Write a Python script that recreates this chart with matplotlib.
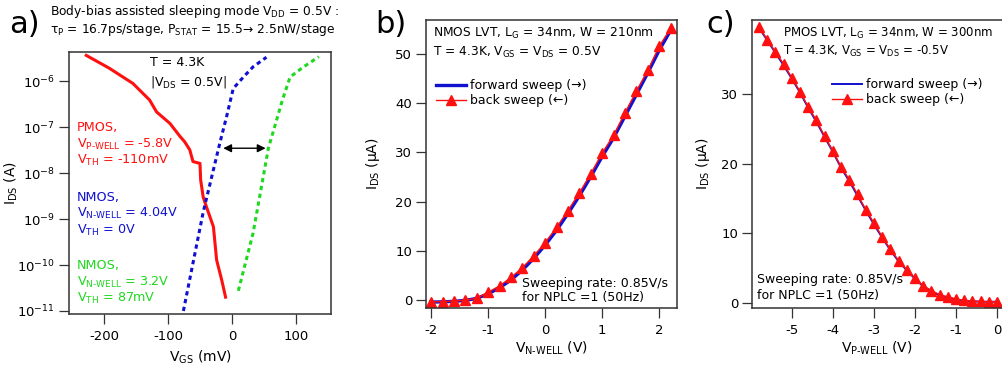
import matplotlib
matplotlib.use("Agg")
import matplotlib.pyplot as plt
import numpy as np

plt.rcParams['font.family'] = ['DejaVu Sans']
plt.rcParams['mathtext.default'] = 'regular'
plt.rcParams['axes.unicode_minus'] = False

W, H = 1002, 369

# panel a: subthreshold curves (V_GS in mV, I_DS in A)
pmos_vgs = [-228, -192, -155, -129, -118, -97, -81, -74, -66, -61, -50, -49, -45, -40, -29, -24, -16, -10]
pmos_ids = [3.63e-6, 1.91e-6, 8.9e-7, 3.9e-7, 2.14e-7, 1.20e-7, 6.2e-8, 4.8e-8, 3.2e-8, 1.78e-8,
            1.62e-8, 7.1e-9, 3.0e-9, 1.86e-9, 6.8e-10, 1.29e-10, 4.7e-11, 2.0e-11]
nmos404_vgs = [-76, -45, -19, -8, 2, 18, 33, 54]
nmos404_ids = [1.0e-11, 1.41e-9, 4.47e-8, 1.78e-7, 6.9e-7, 1.23e-6, 2.04e-6, 3.31e-6]
nmos32_vgs = [10, 33, 57, 79, 91, 112, 136]
nmos32_ids = [2.75e-11, 4.9e-10, 3.47e-8, 3.9e-7, 1.23e-6, 2.04e-6, 3.39e-6]
shift_from, shift_to, shift_level = -18, 57, 3.47e-8

# panel b: NMOS I_DS (uA) vs V_N-WELL (V)
nwell_v = [-2.0, -1.8, -1.6, -1.4, -1.2, -1.0, -0.8, -0.6, -0.4, -0.2, 0.0,
           0.2, 0.4, 0.6, 0.8, 1.0, 1.2, 1.4, 1.6, 1.8, 2.0, 2.2]
nwell_fwd = [-0.4, -0.35, -0.25, -0.05, 0.35, 1.3, 2.5, 4.1, 6.1, 8.5, 11.2,
             14.2, 17.6, 21.2, 25.1, 29.2, 33.0, 37.4, 41.8, 46.2, 50.8, 54.8]
nwell_back = [-0.35, -0.3, -0.2, 0.0, 0.4, 1.6, 2.9, 4.6, 6.6, 9.0, 11.7,
              14.8, 18.2, 21.8, 25.7, 29.9, 33.5, 38.1, 42.5, 46.7, 51.6, 55.2]

# panel c: PMOS I_DS (uA) vs V_P-WELL (V)
pwell_v = [-5.8, -5.6, -5.4, -5.2, -5.0, -4.8, -4.6, -4.4, -4.2, -4.0, -3.8, -3.6, -3.4, -3.2, -3.0,
           -2.8, -2.6, -2.4, -2.2, -2.0, -1.8, -1.6, -1.4, -1.2, -1.0, -0.8, -0.6, -0.4, -0.2, 0.0]
pwell_back = [39.6, 37.8, 36.0, 34.3, 32.3, 30.3, 28.1, 26.2, 23.9, 21.8, 19.5, 17.7, 15.6, 13.4, 11.5,
              9.5, 7.7, 6.1, 4.8, 3.6, 2.5, 1.8, 1.2, 0.9, 0.6, 0.4, 0.3, 0.25, 0.2, 0.2]
pwell_fwd = [39.5, 37.7, 35.9, 34.1, 32.2, 30.2, 28.0, 26.0, 23.8, 21.7, 19.4, 17.5, 15.4, 13.3, 11.3,
             9.4, 7.6, 6.0, 4.7, 3.5, 2.4, 1.7, 1.1, 0.8, 0.5, 0.35, 0.25, 0.2, 0.2, 0.2]

RED = '#ff1010'
BLUE = '#1010d0'
GREEN = '#20d820'
SPINE = '#333333'

fig = plt.figure(figsize=(W / 100, H / 100), dpi=100)


def box(l, t, r, b):
    return [l / W, 1 - b / H, (r - l) / W, (b - t) / H]


def ftext(x, y, s, **kw):
    kw.setdefault('va', 'center')
    kw.setdefault('ha', 'left')
    fig.text(x / W, 1 - y / H, s, **kw)


def style(ax, l, t, r, b, xlab_y, ylab_x):
    for sp in ax.spines.values():
        sp.set_color(SPINE)
        sp.set_linewidth(1.1)
    ax.tick_params(direction='out', length=7, width=0.9, color=SPINE, labelsize=9.5)
    ax.tick_params(axis='x', pad=4.5)
    ax.tick_params(axis='y', pad=3)
    ax.tick_params(which='minor', length=0)
    ax.xaxis.label.set_va('center')
    ax.yaxis.label.set_va('center')
    ax.xaxis.set_label_coords(0.5, (b - xlab_y) / (b - t))
    ax.yaxis.set_label_coords((ylab_x - l) / (r - l), 0.5)


# ---- a) ----
axa = fig.add_axes(box(69, 52, 331, 314))
axa.plot(pmos_vgs, pmos_ids, color=RED, lw=2.2)
axa.plot(nmos404_vgs, nmos404_ids, color=BLUE, lw=2.2, ls=(0, (1.4, 1.2)))
axa.plot(nmos32_vgs, nmos32_ids, color=GREEN, lw=2.2, ls=(0, (1.4, 1.2)))
axa.annotate('', xy=(shift_from, shift_level), xytext=(shift_to, shift_level),
             arrowprops=dict(arrowstyle='<|-|>', color='black', lw=1.0, mutation_scale=12))
axa.set_yscale('log')
axa.set_xlim(-255, 155)
axa.set_ylim(8.6e-12, 4.3e-6)
axa.set_xticks([-200, -100, 0, 100])
axa.set_yticks([1e-11, 1e-10, 1e-9, 1e-8, 1e-7, 1e-6])
axa.set_xlabel('$V_{GS}$ (mV)', fontsize=10)
axa.set_ylabel('$I_{DS}$ (A)', fontsize=10)
style(axa, 69, 52, 331, 314, 357, 11)

ftext(150, 63, 'T = 4.3K', fontsize=9)
ftext(150, 82, '|$V_{DS}$ = 0.5V|', fontsize=9)
for lines, ys, c in [(['PMOS,', '$V_{P\u2011WELL}$ = -5.8V', '$V_{TH}$ = -110mV'], [127, 144, 160], RED),
                     (['NMOS,', '$V_{N\u2011WELL}$ = 4.04V', '$V_{TH}$ = 0V'], [197, 213, 230], BLUE),
                     (['NMOS,', '$V_{N\u2011WELL}$ = 3.2V', '$V_{TH}$ = 87mV'], [266, 282, 298], GREEN)]:
    for s, y in zip(lines, ys):
        ftext(77, y, s, fontsize=9.2, color=c)

ftext(50, 11, 'Body-bias assisted sleeping mode $V_{DD}$ = 0.5V :', fontsize=8.8)
ftext(50, 30, '$\u03c4_{P}$ = 16.7ps/stage, $P_{STAT}$ = 15.5\u2192 2.5nW/stage', fontsize=8.8)
ftext(9, 33, 'a)', fontsize=22, va='baseline')

# ---- b) ----
axb = fig.add_axes(box(426, 20, 677, 308))
axb.plot(nwell_v, nwell_fwd, color=BLUE, lw=2.4, label='forward sweep (\u2192)')
axb.plot(nwell_v, nwell_back, color=RED, lw=1.0, marker='^', ms=7, label='back sweep (\u2190)')
axb.set_xlim(-2.09, 2.31)
axb.set_ylim(-1.6, 56.9)
axb.set_xticks([-2, -1, 0, 1, 2])
axb.set_yticks([0, 10, 20, 30, 40, 50])
axb.set_xlabel('$V_{N\u2011WELL}$ (V)', fontsize=10)
axb.set_ylabel('$I_{DS}$ (\u03bcA)', fontsize=10)
style(axb, 426, 20, 677, 308, 348, 373)
axb.legend(loc='upper left', bbox_to_anchor=((436 - 426) / 251, 1 - (79 - 20) / 288),
           frameon=False, fontsize=9, handlelength=2.4, handletextpad=0.3,
           labelspacing=0.15, borderpad=0, borderaxespad=0, numpoints=1)
ftext(433, 33, 'NMOS LVT, $L_{G}$ = 34nm, W = 210nm', fontsize=8.8)
ftext(433, 52, 'T = 4.3K, $V_{GS}$ = $V_{DS}$ = 0.5V', fontsize=8.8)
ftext(522, 283, 'Sweeping rate: 0.85V/s', fontsize=9)
ftext(522, 297, 'for NPLC =1 (50Hz)', fontsize=9)
ftext(375, 33, 'b)', fontsize=22, va='baseline')

# ---- c) ----
axc = fig.add_axes(box(752, 20, 1002, 308))
axc.plot(pwell_v, pwell_fwd, color=BLUE, lw=1.4, label='forward sweep (\u2192)')
axc.plot(pwell_v, pwell_back, color=RED, lw=1.0, marker='^', ms=7, label='back sweep (\u2190)')
axc.set_xlim(-5.97, 0.12)
axc.set_ylim(-0.7, 40.6)
axc.set_xticks([-5, -4, -3, -2, -1, 0])
axc.set_yticks([0, 10, 20, 30])
axc.set_xlabel('$V_{P\u2011WELL}$ (V)', fontsize=10)
axc.set_ylabel('$I_{DS}$ (\u03bcA)', fontsize=10)
style(axc, 752, 20, 1002, 308, 348, 703)
axc.spines['right'].set_visible(False)
axc.legend(loc='upper left', bbox_to_anchor=((832 - 752) / 250, 1 - (78 - 20) / 288),
           frameon=False, fontsize=9, handlelength=2.4, handletextpad=0.3,
           labelspacing=0.15, borderpad=0, borderaxespad=0, numpoints=1)
ftext(783, 33, 'PMOS LVT, $L_{G}$ = 34nm, W = 300nm', fontsize=8.5)
ftext(783, 51, 'T = 4.3K, $V_{GS}$ = $V_{DS}$ = -0.5V', fontsize=8.5)
ftext(757, 280, 'Sweeping rate: 0.85V/s', fontsize=9)
ftext(757, 296, 'for NPLC =1 (50Hz)', fontsize=9)
ftext(706, 33, 'c)', fontsize=22, va='baseline')

fig.savefig('out.png', dpi=100)
